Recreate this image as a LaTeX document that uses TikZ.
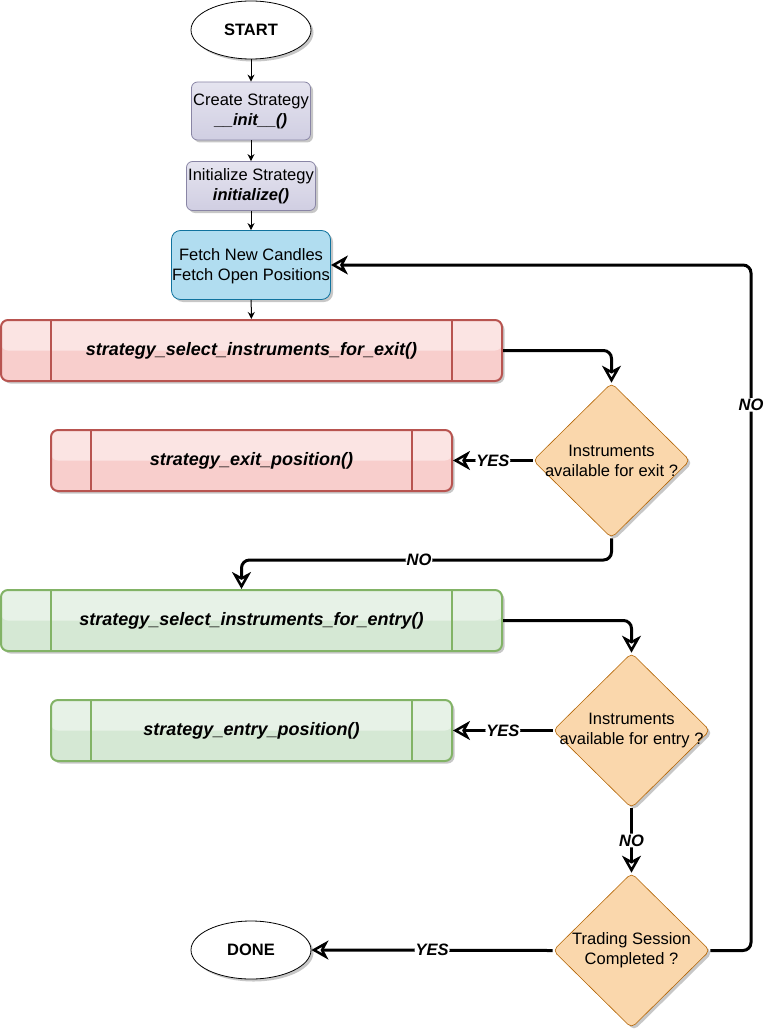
\documentclass[tikz,border=0pt]{standalone}
\usepackage{fontspec}
\setmainfont{Liberation Sans}
\usetikzlibrary{shapes.geometric,arrows.meta,shadows}
\definecolor{purF}{HTML}{D0CEE2}
\definecolor{purD}{HTML}{56517E}
\definecolor{bluF}{HTML}{B1DDF0}
\definecolor{bluD}{HTML}{10739E}
\definecolor{redF}{HTML}{F8CECC}
\definecolor{redD}{HTML}{B85450}
\definecolor{grnF}{HTML}{D5E8D4}
\definecolor{grnD}{HTML}{82B366}
\definecolor{orgF}{HTML}{FAD7AC}
\definecolor{orgD}{HTML}{B46504}
\begin{document}
\begin{tikzpicture}[x=1pt,y=-1pt,
  font=\fontsize{16.5}{20}\selectfont,
  sh/.style={drop shadow={shadow xshift=2.5pt,shadow yshift=-2.5pt,fill=black,opacity=0.22}},
  term/.style={ellipse, draw=black, line width=0.8pt, fill=white, minimum width=120pt, minimum height=58pt, inner sep=0pt, font=\fontsize{16.5}{20}\selectfont\bfseries, sh},
  purbox/.style={rectangle, rounded corners=6pt, draw=purD!70, line width=0.8pt, top color=purF!55!white, bottom color=purF, align=center, inner sep=0pt, sh},
  blubox/.style={rectangle, rounded corners=9pt, draw=bluD, line width=0.8pt, fill=bluF, align=center, inner sep=0pt, sh},
  bars/.style 2 args={path picture={
     \fill[white,opacity=0.45] (path picture bounding box.north west) rectangle (path picture bounding box.east);
     \draw[#2,line width=2pt] ([xshift=#1pt]path picture bounding box.north west) -- ([xshift=#1pt]path picture bounding box.south west);
     \draw[#2,line width=2pt] ([xshift=-#1pt]path picture bounding box.north east) -- ([xshift=-#1pt]path picture bounding box.south east);}},
  procbox/.style 2 args={rectangle, rounded corners=7pt, draw=#2, line width=2pt, fill=#1, minimum height=61pt, inner sep=0pt, font=\fontsize{18}{21}\selectfont\bfseries\itshape, sh},
  dia/.style={diamond, aspect=1, minimum width=157pt, minimum height=155pt, inner sep=0pt, rounded corners=5pt, draw=orgD, line width=0.6pt, fill=orgF, sh},
  thinarr/.style={line width=1pt, -{Stealth[length=7pt,width=7pt]}},
  conn/.style={line width=3pt, rounded corners=8pt, -{Stealth[open,length=17pt,width=19pt,inset=5pt,line width=2.5pt]}},
  lbl/.style={fill=white, inner sep=1pt, font=\fontsize{16.5}{20}\selectfont\bfseries\itshape}
]
\useasboundingbox (0,0) rectangle (768,1035);

\node[term] (start) at (251,30) {START};
\node[purbox, minimum width=119pt, minimum height=58pt] (create) at (251,111) {Create Strategy\\\textbf{\textit{\_\_init\_\_()}}};
\node[purbox, minimum width=129pt, minimum height=49pt] (init) at (251,186) {Initialize Strategy\\\textbf{\textit{initialize()}}};
\node[blubox, minimum width=159pt, minimum height=69pt] (fetch) at (251,265) {};
\node[align=center] (fetcht) at (251,266.5) {Fetch New Candles\\Fetch Open Positions};

\node[procbox={redF}{redD}, minimum width=501pt, bars={50}{redD}] (selexit) at (251.5,350.5) {strategy\_select\_instruments\_for\_exit()};
\node[procbox={redF}{redD}, minimum width=401pt, bars={40}{redD}] (exitpos) at (251.5,460.5) {strategy\_exit\_position()};
\node[procbox={grnF}{grnD}, minimum width=501pt, bars={50}{grnD}] (selentry) at (251.5,620.5) {strategy\_select\_instruments\_for\_entry()};
\node[procbox={grnF}{grnD}, minimum width=401pt, bars={40}{grnD}] (entrypos) at (251.5,730.5) {strategy\_entry\_position()};

\node[dia] (d1) at (611.5,460.5) {};
\node[align=center] (d1t) at (d1) {Instruments\\available for exit ?};
\node[dia] (d2) at (631.5,730.5) {};
\node[align=center] (d2t) at (d2) {Instruments\\available for entry ?};
\node[dia] (d3) at (631.5,950.5) {};
\node[align=center] (d3t) at (d3) {Trading Session\\Completed ?};

\node[term] (done) at (251,950) {DONE};

\draw[thinarr] (start) -- (create);
\draw[thinarr] (create) -- (init);
\draw[thinarr] (init) -- (fetch);
\draw[thinarr] (fetch) -- (selexit);

\coordinate (c1) at (611.5,560);
\coordinate (c2) at (241.5,560);
\coordinate (c3) at (751,950.5);
\coordinate (c4) at (751,265);

\draw[conn] (selexit.east) -| (d1.north);
\draw[conn] (d1.west) -- node[lbl] {YES} (exitpos.east);
\draw[conn] (d1.south) -- (c1) -- node[lbl, pos=0.52] {NO} (c2) -- ([xshift=-10pt]selentry.north);
\draw[conn] (selentry.east) -| (d2.north);
\draw[conn] (d2.west) -- node[lbl] {YES} (entrypos.east);
\draw[conn] (d2.south) -- node[lbl] {NO} (d3.north);
\draw[conn] (d3.west) -- node[lbl] {YES} (done.east);
\draw[conn] (d3.east) -- (c3) -- node[lbl, pos=0.796] {NO} (c4) -- (fetch.east);
\end{tikzpicture}
\end{document}
